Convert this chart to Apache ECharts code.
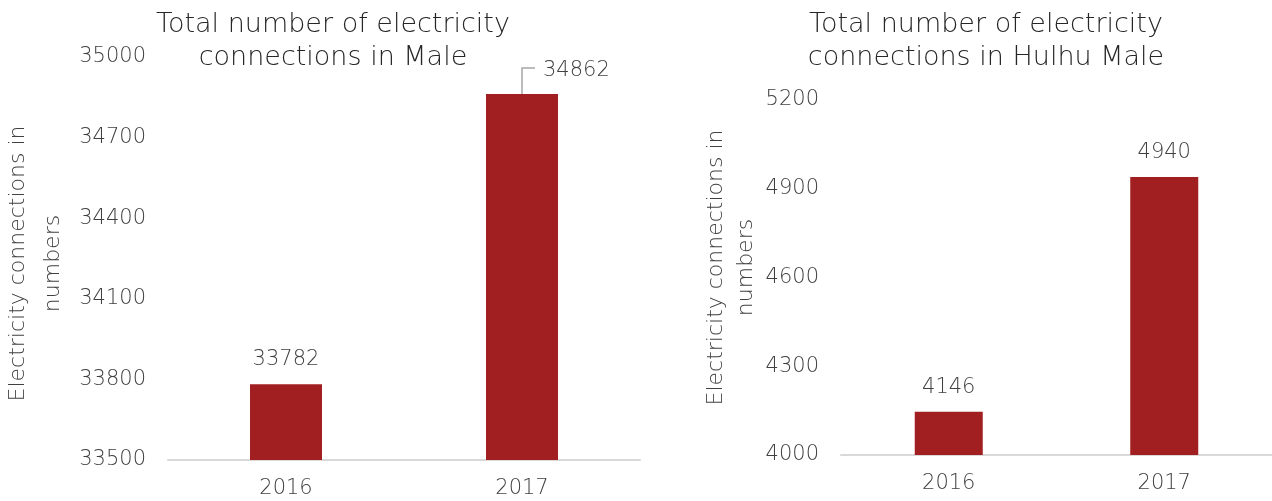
<!DOCTYPE html>
<html><head><meta charset="utf-8">
<script src="https://cdn.jsdelivr.net/npm/echarts@6/dist/echarts.min.js"></script>
<style>html,body{margin:0;padding:0;background:#fff}#c{width:1272px;height:501px}</style>
</head><body><div id="c"></div>
<script>
const categories = ['2016', '2017'];
const maleValues = [33782, 34862];
const hulhuValues = [4146, 4940];
const maleTitle = 'Total number of electricity\nconnections in Male';
const hulhuTitle = 'Total number of electricity\nconnections in Hulhu Male';
const yName = 'Electricity connections in\nnumbers';

const FONT = '"DejaVu Sans"';
const FW = 200;
const TXT = '#404040';
const BAR = '#A21F21';

const chart = echarts.init(document.getElementById('c'), null, {renderer: 'canvas'});

function yAxis(gi, min, max, gap, lh, pad) {
  return {
    type: 'value', gridIndex: gi, min: min, max: max, interval: 300,
    splitLine: {show: false}, axisLine: {show: false}, axisTick: {show: false},
    axisLabel: {color: TXT, fontFamily: FONT, fontWeight: FW, fontSize: 21, margin: 22,
                padding: [4, 0, 0, 0], formatter: v => String(v)},
    name: yName, nameLocation: 'middle', nameRotate: 90, nameGap: gap,
    nameTextStyle: {color: TXT, fontFamily: FONT, fontWeight: FW, fontSize: 22, lineHeight: lh,
                    align: 'center', padding: pad}
  };
}
function xAxis(gi) {
  return {
    type: 'category', gridIndex: gi, data: categories,
    axisLine: {show: true, lineStyle: {color: '#d9d9d9', width: 2}},
    axisTick: {show: false},
    axisLabel: {color: TXT, fontFamily: FONT, fontWeight: FW, fontSize: 21, margin: 18}
  };
}
const labelBase = {show: true, position: 'top', distance: 14, color: TXT, fontFamily: FONT, fontWeight: FW, fontSize: 21};
const titleStyle = {color: '#262626', fontFamily: FONT, fontWeight: FW, fontSize: 27, lineHeight: 33};

chart.setOption({
  animation: false,
  title: [
    {text: maleTitle, left: 328, top: 3, textAlign: 'center', textStyle: titleStyle},
    {text: hulhuTitle, left: 981, top: 3, textAlign: 'center', textStyle: titleStyle}
  ],
  grid: [
    {left: 168, width: 472, top: 57, bottom: 41, outerBoundsMode: 'none', containLabel: false},
    {left: 841, right: 0, top: 100, bottom: 46, outerBoundsMode: 'none', containLabel: false}
  ],
  xAxis: [xAxis(0), xAxis(1)],
  yAxis: [yAxis(0, 33500, 35000, 97, 35, [0, 10, 0, 0]), yAxis(1, 4000, 5200, 78, 30, [0, 0, 0, 20])],
  series: [
    {type: 'bar', xAxisIndex: 0, yAxisIndex: 0, barWidth: 72,
     itemStyle: {color: BAR},
     data: maleValues,
     label: labelBase,
     labelLayout: function (p) {
       if (p.dataIndex !== 1) return {};
       const cx = p.rect.x + p.rect.width / 2;
       return {x: cx + 21, y: p.rect.y - 24, align: 'left', verticalAlign: 'middle'};
     }
    },
    {type: 'custom', xAxisIndex: 0, yAxisIndex: 0, silent: true, z: 1,
     data: [[1, maleValues[1]]],
     renderItem: function (params, api) {
       const p = api.coord([api.value(0), api.value(1)]);
       return {type: 'polyline',
         shape: {points: [[p[0], p[1]], [p[0], p[1] - 26], [p[0] + 13, p[1] - 26]]},
         style: {stroke: '#a6a6a6', lineWidth: 1.5, fill: null}};
     }
    },
    {type: 'bar', xAxisIndex: 1, yAxisIndex: 1, barWidth: 68,
     itemStyle: {color: BAR}, data: hulhuValues, label: labelBase}
  ]
});
</script></body></html>
